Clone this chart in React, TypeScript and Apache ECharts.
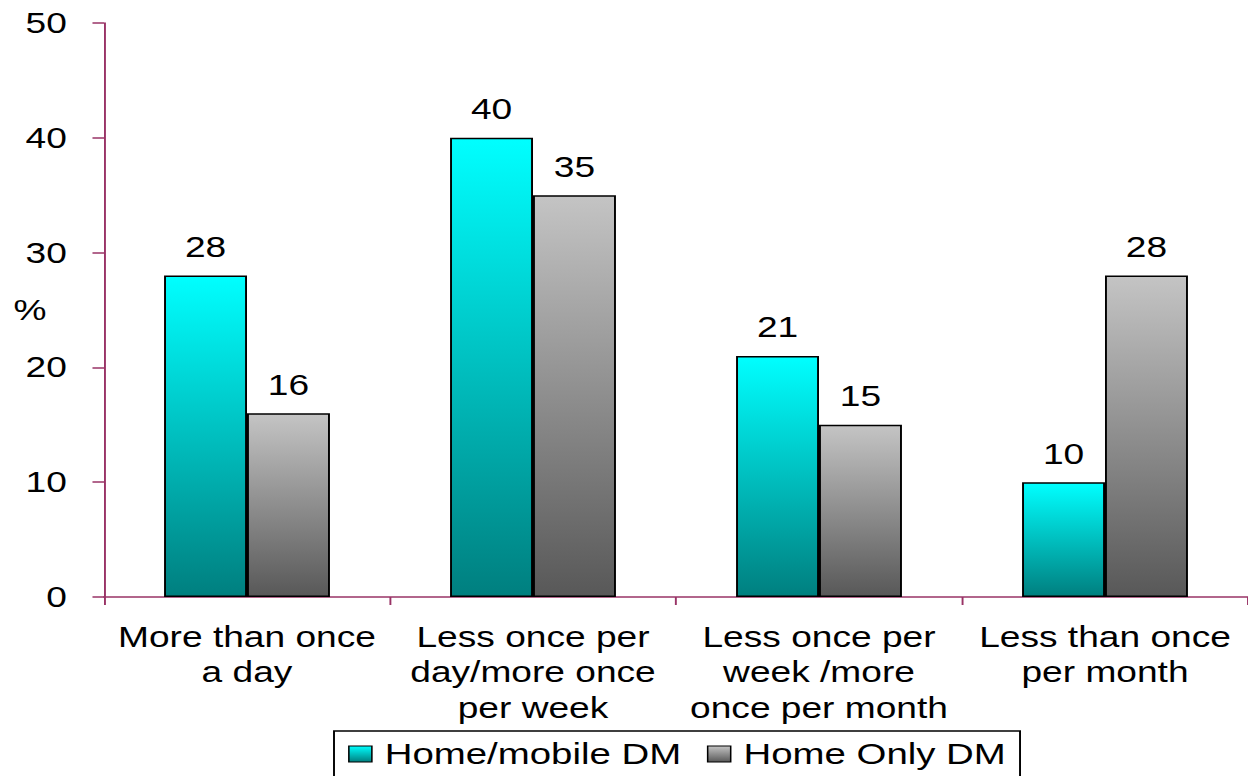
import React, { useEffect, useRef } from "react";
import * as echarts from "echarts";

const categories = [
  "More than once\na day",
  "Less once per\nday/more once\nper week",
  "Less once per\nweek /more\nonce per month",
  "Less than once\nper month",
];
const homeMobile = [28, 40, 21, 10];
const homeOnly = [16, 35, 15, 28];
const seriesNames = ["Home/mobile DM", "Home Only DM"];

const FONT = "'Liberation Sans', Arial, sans-serif";
const AXIS_COLOR = "#993366";
// The reference is horizontally stretched; render narrower and stretch with CSS.
const STRETCH = 1.28;
const PAGE_W = 1248;
const PAGE_H = 776;

const cyanGrad = new echarts.graphic.LinearGradient(0, 0, 0, 1, [
  { offset: 0, color: "#00FFFF" },
  { offset: 1, color: "#007F7F" },
]);
const greyGrad = new echarts.graphic.LinearGradient(0, 0, 0, 1, [
  { offset: 0, color: "#C4C4C4" },
  { offset: 1, color: "#585858" },
]);

export default function App() {
  const ref = useRef<HTMLDivElement>(null);
  useEffect(() => {
    if (!ref.current) return;
    const chart = echarts.init(ref.current, undefined, { renderer: "svg" });
    const labelStyle = {
      show: true,
      position: "top" as const,
      distance: 14,
      color: "#000",
      fontSize: 29,
      fontFamily: FONT,
    };
    chart.setOption({
      animation: false,
      textStyle: { fontFamily: FONT },
      grid: {
        left: 104 / STRETCH,
        right: 0,
        top: 23,
        bottom: 179,
        containLabel: false,
        outerBoundsMode: "none",
      },
      legend: {
        left: 334 / STRETCH,
        top: 731,
        padding: [8, 11, 14, 11],
        borderColor: "#000",
        borderWidth: 1.5,
        itemWidth: 18,
        itemHeight: 16,
        itemGap: 20,
        textStyle: { fontSize: 30, color: "#000", fontFamily: FONT, padding: [0, 0, 0, 5] },
        data: [
          { name: seriesNames[0], icon: "rect", itemStyle: { color: cyanGrad, borderColor: "#000", borderWidth: 1.2 } },
          { name: seriesNames[1], icon: "rect", itemStyle: { color: greyGrad, borderColor: "#000", borderWidth: 1.2 } },
        ],
      },
      xAxis: {
        type: "category",
        data: categories,
        axisLine: { lineStyle: { color: AXIS_COLOR, width: 1.5 } },
        axisTick: { show: true, alignWithLabel: false, length: 8, lineStyle: { color: AXIS_COLOR, width: 1.5 } },
        axisLabel: {
          color: "#000",
          fontSize: 29,
          fontFamily: FONT,
          lineHeight: 35.5,
          margin: 22,
          interval: 0,
        },
      },
      yAxis: {
        type: "value",
        min: 0,
        max: 50,
        interval: 10,
        name: "%",
        nameLocation: "middle",
        nameRotate: 0,
        nameGap: 45,
        nameMoveOverlap: false,
        nameTextStyle: { fontSize: 29, color: "#000", fontFamily: FONT },
        splitLine: { show: false },
        axisLine: { show: true, lineStyle: { color: AXIS_COLOR, width: 1.5 } },
        axisTick: { show: true, length: 9, lineStyle: { color: AXIS_COLOR, width: 1.5 } },
        axisLabel: { color: "#000", fontSize: 29, fontFamily: FONT, margin: 29 },
      },
      series: [
        {
          name: seriesNames[0],
          type: "bar",
          data: homeMobile,
          barGap: "0%",
          barCategoryGap: "42%",
          itemStyle: { color: cyanGrad, borderColor: "#000", borderWidth: 1.5 },
          label: labelStyle,
        },
        {
          name: seriesNames[1],
          type: "bar",
          data: homeOnly,
          itemStyle: { color: greyGrad, borderColor: "#000", borderWidth: 1.5 },
          label: labelStyle,
        },
      ],
    });
    return () => chart.dispose();
  }, []);
  return (
    <div
      style={{
        position: "absolute",
        left: 0,
        top: 0,
        width: PAGE_W,
        height: PAGE_H,
        background: "#fff",
        overflow: "hidden",
      }}
    >
      <div
        ref={ref}
        style={{
          width: PAGE_W / STRETCH,
          height: PAGE_H,
          transform: `scaleX(${STRETCH})`,
          transformOrigin: "0 0",
        }}
      />
    </div>
  );
}
